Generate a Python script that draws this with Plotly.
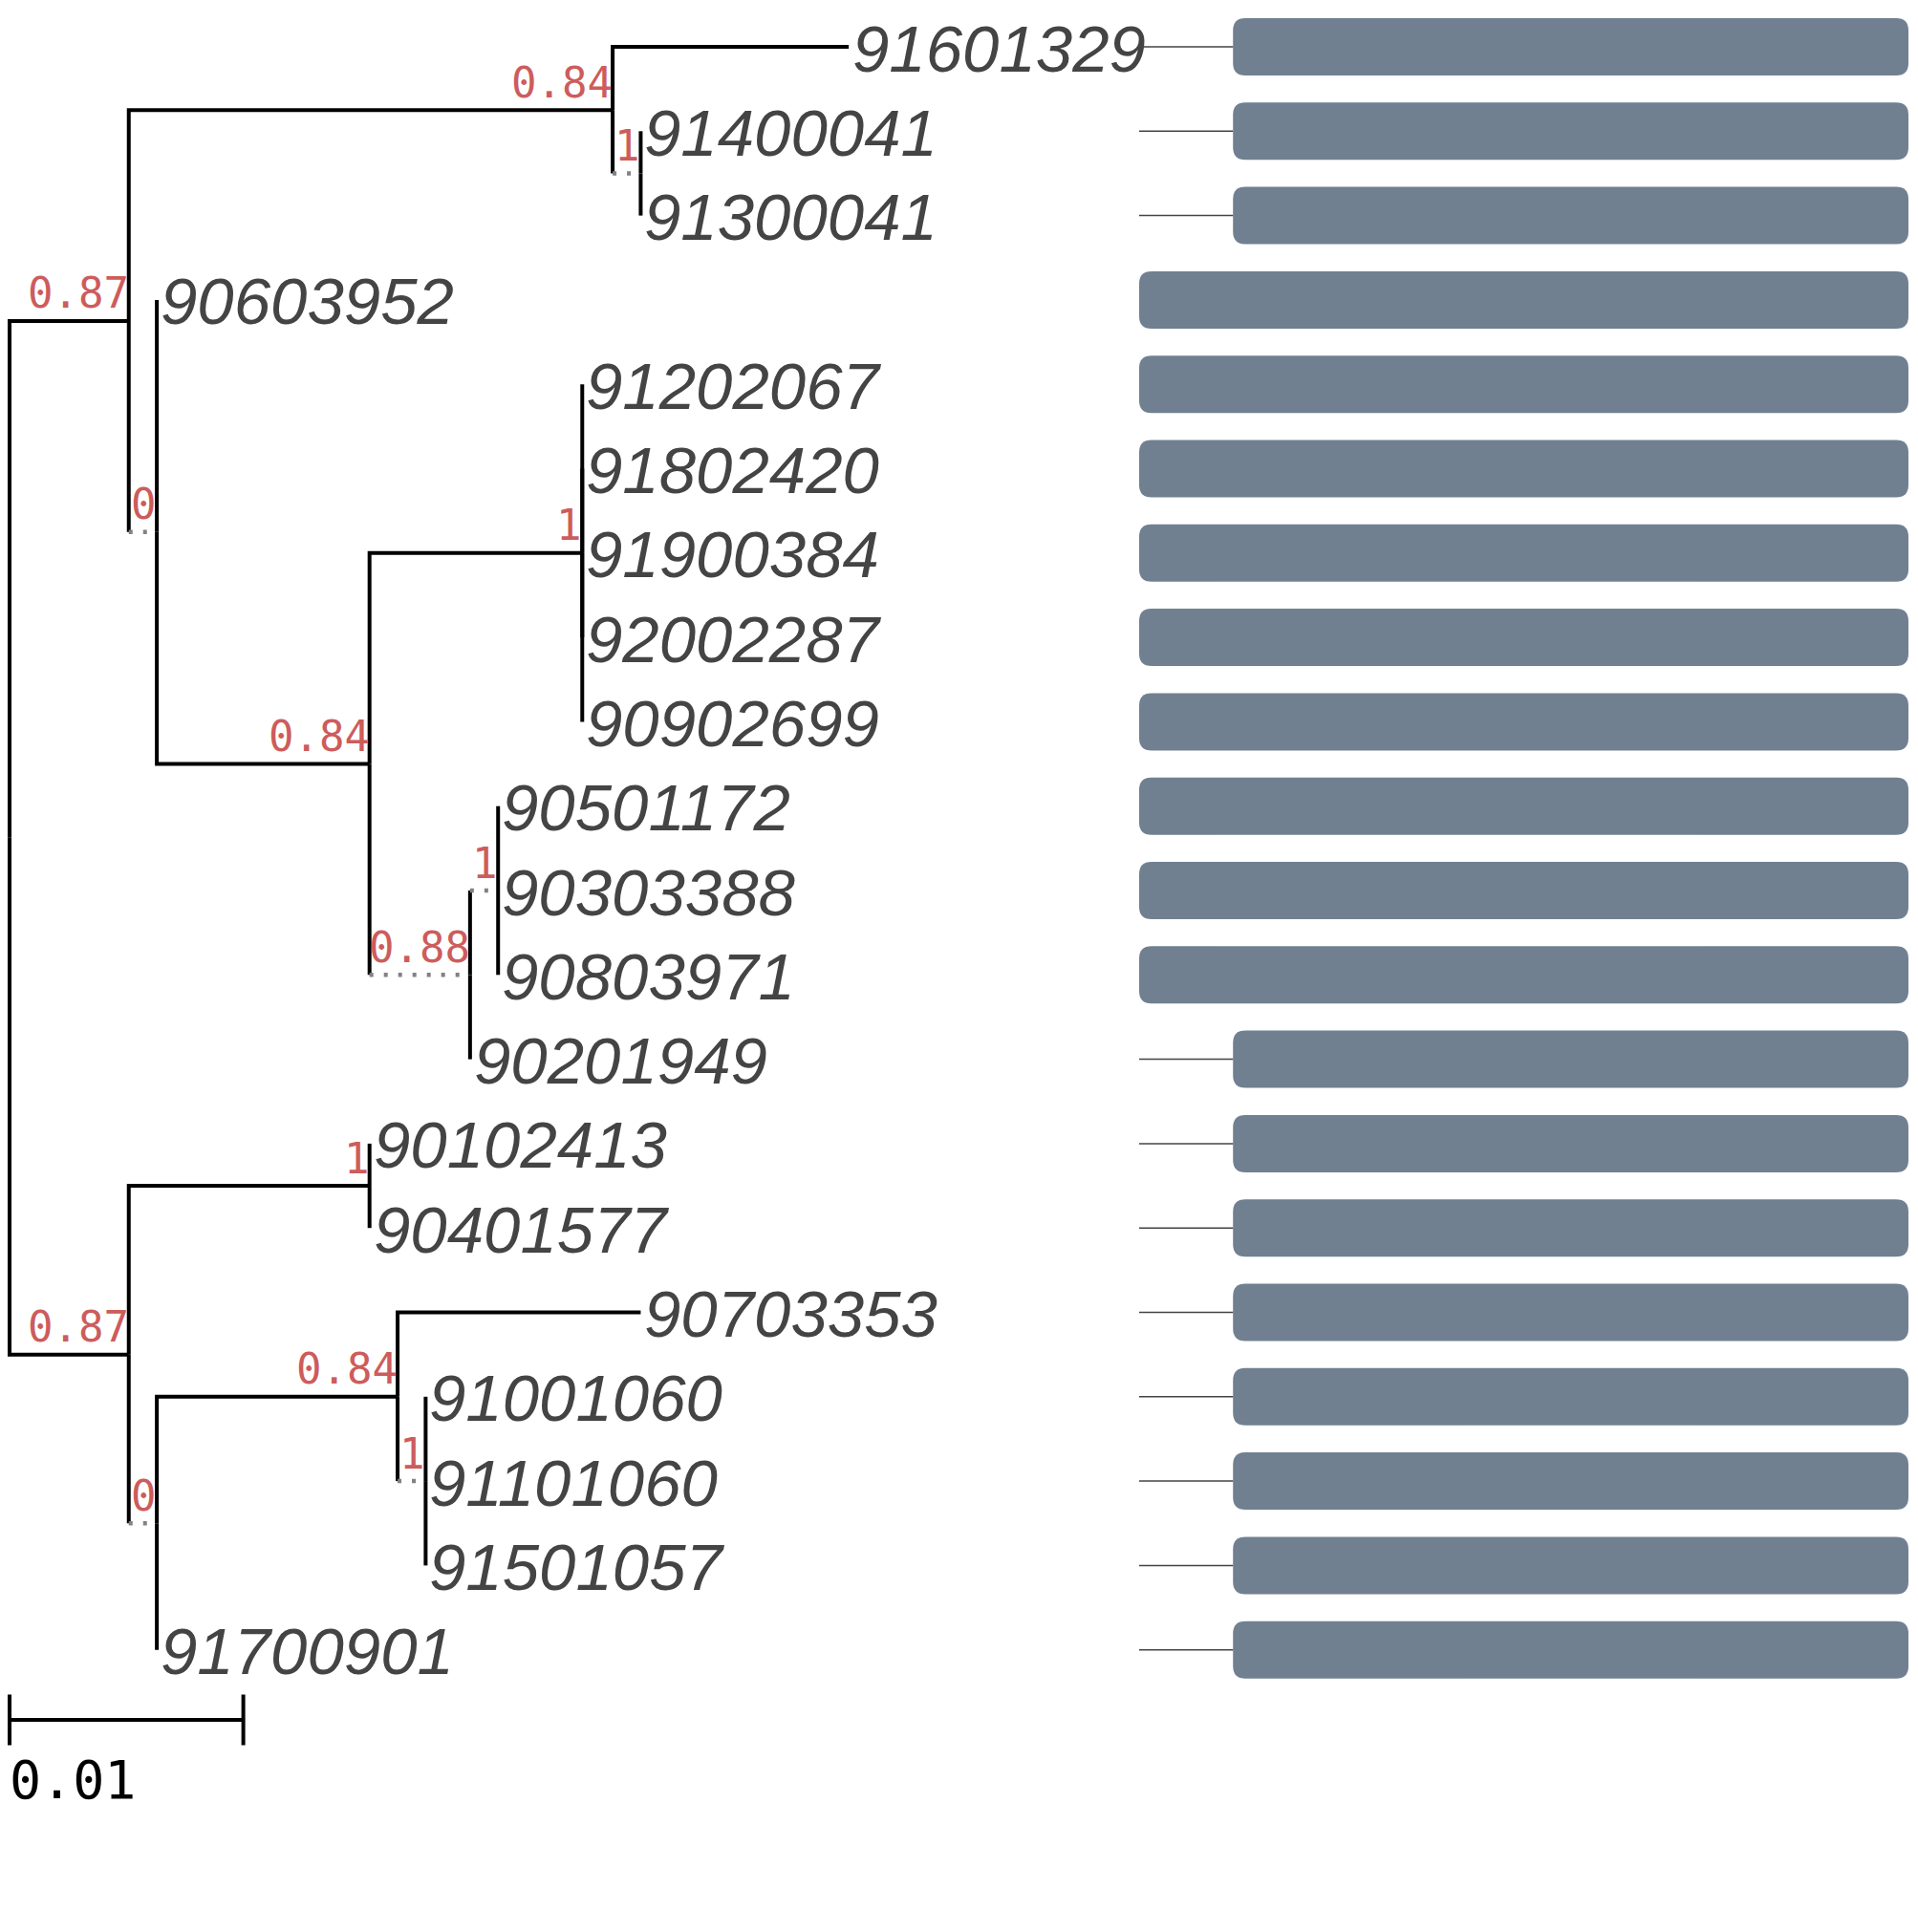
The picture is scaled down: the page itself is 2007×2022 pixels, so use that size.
import plotly.graph_objects as go

# leaves, top to bottom
leaf_names = ["91601329", "91400041", "91300041", "90603952", "91202067",
              "91802420", "91900384", "92002287", "90902699", "90501172",
              "90303388", "90803971", "90201949", "90102413", "90401577",
              "90703353", "91001060", "91101060", "91501057", "91700901"]
leaf_parents = ["B", "C", "C", "D", "F", "F", "F", "F", "F", "H",
                "H", "H", "G", "J", "J", "L", "M", "M", "M", "K"]
leaf_lengths = [0.0101, 0, 0, 0, 0, 0, 0, 0, 0, 0,
                0, 0, 0, 0, 0, 0.0104, 0, 0, 0, 0]

# internal nodes (parents listed before children)
node_names = ["root", "A", "B", "C", "D", "E", "F", "G", "H", "I", "J", "K", "L", "M"]
node_parents = [None, "root", "A", "B", "A", "D", "E", "E", "G", "root", "I", "I", "K", "L"]
node_lengths = [0, 0.0051, 0.0207, 0.0012, 0.0012, 0.0091, 0.0091, 0.0043, 0.0012,
                0.0051, 0.0103, 0.0012, 0.0103, 0.0012]
node_support = [None, "0.87", "0.84", "1", "0", "0.84", "1", "0.88", "1",
                "0.87", "1", "0", "0.84", "1"]
node_dotted = [False, False, False, True, True, False, False, True, True,
               False, False, True, False, True]

# feature track per leaf
track_start = [12.2, 12.2, 12.2, 0, 0, 0, 0, 0, 0, 0,
               0, 0, 12.2, 12.2, 12.2, 12.2, 12.2, 12.2, 12.2, 12.2]
track_end = [100] * 20

scale_len = 0.01

#%%
# layout of the tree
children = {n: [] for n in node_names}
for n, p in zip(node_names, node_parents):
    if p:
        children[p].append(n)
for n, p in zip(leaf_names, leaf_parents):
    children[p].append(n)

xpos = {"root": 0.0}
for n, p, bl in zip(node_names[1:], node_parents[1:], node_lengths[1:]):
    xpos[n] = xpos[p] + bl
for n, p, bl in zip(leaf_names, leaf_parents, leaf_lengths):
    xpos[n] = xpos[p] + bl

ypos = {n: i for i, n in enumerate(leaf_names)}
def get_y(n):
    if n not in ypos:
        ys = [get_y(c) for c in children[n]]
        ypos[n] = (min(ys) + max(ys)) / 2
    return ypos[n]
get_y("root")

dotted = dict(zip(node_names, node_dotted))

solid_x, solid_y, dot_x, dot_y = [], [], [], []
for par, kids in children.items():
    for c in kids:
        px, py = xpos[par], ypos[par]
        cx, cy = xpos[c], ypos[c]
        if dotted.get(c, False):
            solid_x += [px, px, None]
            solid_y += [py, cy, None]
            dot_x += [px, cx, None]
            dot_y += [cy, cy, None]
        else:
            solid_x += [px, px, cx, None]
            solid_y += [py, cy, cy, None]

#%%
# page has an 8px body margin, so keep the figure inside the window
W, H = 1991, 2006
px_per_unit = 24460      # tree x scale (px per unit branch length)
x_off = 2
trk_px = 8.05            # track scale
trk_off = 1184
row_px = 88.3
row_off = 41

fig = go.Figure()
fig.add_scatter(x=solid_x, y=solid_y, mode='lines',
                line=dict(color='black', width=4), hoverinfo='skip')
fig.add_scatter(x=dot_x, y=dot_y, mode='lines',
                line=dict(color='#828282', width=4.5, dash='4px,11px'), hoverinfo='skip')

# scale bar
sb_y = 19.83
fig.add_scatter(x=[0, scale_len, None, 0, 0, None, scale_len, scale_len],
                y=[sb_y, sb_y, None, sb_y - 0.3, sb_y + 0.3, None, sb_y - 0.3, sb_y + 0.3],
                mode='lines', line=dict(color='black', width=4), hoverinfo='skip')
fig.add_annotation(x=0, y=20.54, text=str(scale_len), showarrow=False,
                   xanchor='left', yanchor='middle', xshift=-2,
                   font=dict(family='DejaVu Sans Mono', size=55, color='black'))

# leaf names
for n in leaf_names:
    fig.add_annotation(x=xpos[n], y=ypos[n], text=n, showarrow=False,
                       xanchor='left', yanchor='middle', xshift=2, yshift=-2,
                       font=dict(family='Liberation Sans', size=69, color='#444444',
                                 style='italic'))

# support values
for n, s in zip(node_names, node_support):
    if s is None:
        continue
    fig.add_annotation(x=xpos[n], y=ypos[n], text=s, showarrow=False,
                       xanchor='right', yanchor='middle', yshift=29, xshift=2,
                       font=dict(family='DejaVu Sans Mono', size=44, color='#cd5c5c'))

# track: connector lines and rounded bars
con_x, con_y = [], []
for i, (s, e) in enumerate(zip(track_start, track_end)):
    if s > 0:
        con_x += [0, s, None]
        con_y += [i, i, None]
fig.add_scatter(x=con_x, y=con_y, xaxis='x2', mode='lines',
                line=dict(color='#444444', width=1.5), hoverinfo='skip')

hh = 30 / row_px
rx = 13 / trk_px
ry = 13 / row_px
for i, (s, e) in enumerate(zip(track_start, track_end)):
    y0, y1 = i - hh, i + hh
    path = (f"M {s+rx},{y0} L {e-rx},{y0} Q {e},{y0} {e},{y0+ry} "
            f"L {e},{y1-ry} Q {e},{y1} {e-rx},{y1} L {s+rx},{y1} "
            f"Q {s},{y1} {s},{y1-ry} L {s},{y0+ry} Q {s},{y0} {s+rx},{y0} Z")
    fig.add_shape(type='path', path=path, xref='x2', yref='y',
                  fillcolor='#708090', line=dict(width=0), layer='below')

fig.update_layout(
    width=W, height=H, margin=dict(l=0, r=0, t=0, b=0),
    plot_bgcolor='white', paper_bgcolor='white', showlegend=False,
    xaxis=dict(range=[-x_off / px_per_unit, (W - x_off) / px_per_unit],
               visible=False, fixedrange=True),
    xaxis2=dict(range=[-trk_off / trk_px, (W - trk_off) / trk_px],
                overlaying='x', visible=False, fixedrange=True),
    yaxis=dict(range=[(H - row_off) / row_px, -row_off / row_px],
               visible=False, fixedrange=True),
)

fig.write_html("out.html")
